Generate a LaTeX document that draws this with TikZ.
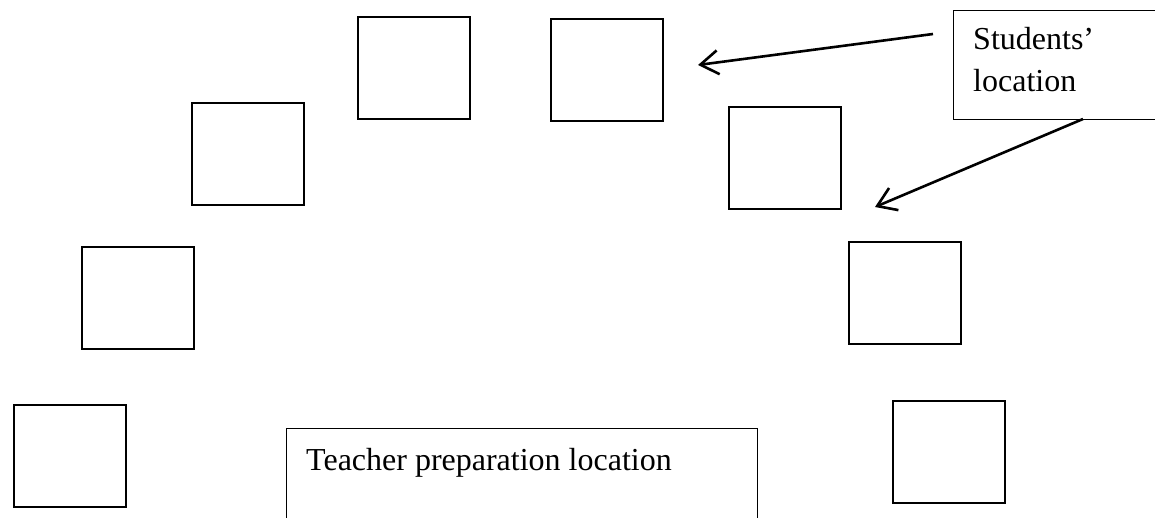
\documentclass[tikz,border=0pt]{standalone}
\usepackage{fontspec}
\setmainfont{Liberation Serif}
\usetikzlibrary{arrows.meta}
\begin{document}
\begin{tikzpicture}[x=1pt,y=-1pt,
  seat/.style={draw, line width=2.4pt, minimum width=112pt, minimum height=102pt, inner sep=0pt, anchor=north west},
  frame/.style={draw, line width=1.3pt, inner sep=0pt, anchor=north west},
  lbl/.style={font=\fontsize{32}{42}\selectfont, inner sep=0pt, anchor=base west},
  pointer/.style={line width=2.6pt, -{Straight Barb[length=18pt, width=24pt, line width=2.6pt]}}]
\useasboundingbox (0,0) rectangle (1155,518);
\clip (0,0) rectangle (1155,518);
% student seats
\node[seat] (s1) at (357,16) {};
\node[seat] (s2) at (550,18) {};
\node[seat] (s3) at (191,102) {};
\node[seat] (s4) at (728,106) {};
\node[seat] (s5) at (81,246) {};
\node[seat] (s6) at (848,241) {};
\node[seat] (s7) at (13,404) {};
\node[seat] (s8) at (892,400) {};
% teacher preparation location
\node[frame, minimum width=471pt, minimum height=120pt] (teacher) at (286,428) {};
\node[lbl] (tlabel) at (306,470) {Teacher preparation location};
% students' location
\node[frame, minimum width=230pt, minimum height=109pt] (students) at (953,10) {};
\node[lbl] (sl1) at (973,50) {Students’};
\node[lbl] (sl2) at (973,92) {location};
% arrows
\coordinate (a1s) at (933,34);
\coordinate (a1e) at (698,65);
\coordinate (a2s) at (1083,119);
\coordinate (a2e) at (875,207);
\draw[pointer] (a1s) -- (a1e);
\draw[pointer] (a2s) -- (a2e);
\end{tikzpicture}
\end{document}
